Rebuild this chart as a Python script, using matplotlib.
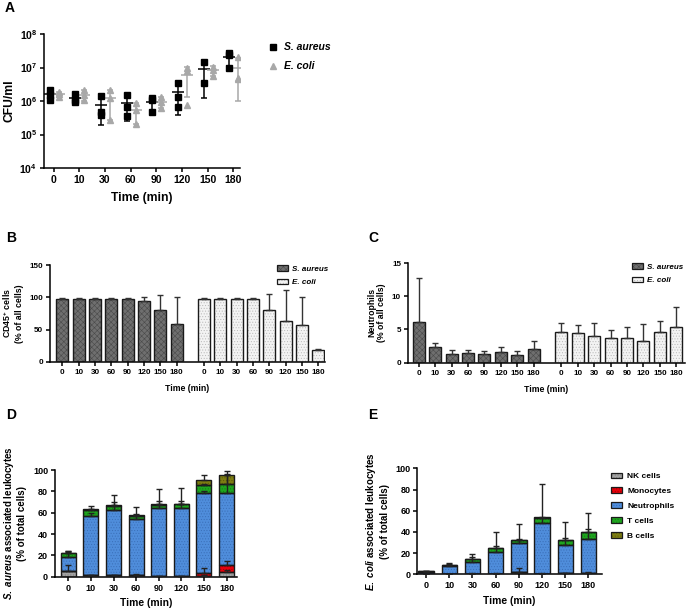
import numpy as np
import matplotlib
matplotlib.use('Agg')
import matplotlib.pyplot as plt
from matplotlib.patches import Patch
from matplotlib.lines import Line2D
from matplotlib.ticker import NullLocator

plt.rcParams['font.family'] = ['Liberation Sans', 'DejaVu Sans']
plt.rcParams['font.weight'] = 'bold'
plt.rcParams['axes.labelweight'] = 'bold'
plt.rcParams['mathtext.fontset'] = 'custom'
plt.rcParams['mathtext.rm'] = 'Liberation Sans:bold'
plt.rcParams['mathtext.bf'] = 'Liberation Sans:bold'
plt.rcParams['mathtext.it'] = 'Liberation Sans:italic:bold'
plt.rcParams['hatch.linewidth'] = 0.4
plt.rcParams['axes.linewidth'] = 1.1

times = ['0', '10', '30', '60', '90', '120', '150', '180']

# panel A: CFU/ml, individual replicates
sa_cfu = [[2.2e6, 1.5e6, 1.05e6], [1.6e6, 1.1e6, 0.95e6], [1.4e6, 0.48e6, 0.38e6],
          [1.5e6, 0.68e6, 0.36e6], [1.25e6, 1.07e6, 0.46e6], [3.4e6, 1.35e6, 0.68e6],
          [1.45e7, 3.5e6], [2.8e7, 2.4e7, 1.0e7]]
ec_cfu = [[1.9e6, 1.6e6, 1.3e6], [2.1e6, 1.5e6, 1.05e6], [2.1e6, 1.2e6, 0.27e6],
          [0.9e6, 0.54e6, 0.21e6], [1.3e6, 0.95e6, 0.6e6], [9.5e6, 7.6e6, 0.76e6],
          [1.07e7, 8.5e6, 5.4e6], [2.0e7, 4.8e6, 4.5e6]]

# panel B: CD45+ cells
cd45_sa = [98, 98, 98, 98, 97, 95, 80, 58]
cd45_sa_sd = [1, 1, 1, 1, 1.5, 5, 23, 43]
cd45_ec = [98, 98, 98, 98, 80, 63, 57, 18]
cd45_ec_sd = [1, 1, 1, 1.5, 25, 48, 43, 2]

# panel C: neutrophils
neu_sa = [6.1, 2.3, 1.3, 1.4, 1.3, 1.6, 1.2, 2.0]
neu_sa_sd = [6.6, 0.7, 0.6, 0.5, 0.4, 0.7, 0.6, 1.2]
neu_ec = [4.6, 4.4, 4.0, 3.7, 3.7, 3.2, 4.6, 5.3]
neu_ec_sd = [1.4, 1.2, 1.9, 1.2, 1.7, 2.6, 1.7, 3.1]

# panels D/E: stacked leukocyte subsets
cell_types = ['NK cells', 'Monocytes', 'Neutrophils', 'T cells', 'B cells']
cell_colors = ['#a3a3a3', '#e8000b', '#4f8ddb', '#1fa51f', '#7d7d12']
hatch_colors = ['#7a7a7a', '#a00000', '#3a6fb8', '#137a13', '#5a5a08']

sa_nk = [5, 1.5, 1.5, 1.5, 0.5, 0.5, 1, 4]
sa_mono = [0.3, 0.2, 0.2, 0.2, 0.1, 0.1, 2.5, 7]
sa_neut = [13, 55, 60.5, 52, 63.5, 63.5, 74.5, 67.5]
sa_t = [3.5, 6, 4.5, 3.5, 3.5, 4, 8, 8]
sa_b = [0.5, 0.3, 0.3, 0.3, 0.2, 0.2, 4.5, 9]
sa_nk_sd = [6, 0.5, 0.5, 1, 0.3, 0.3, 0.5, 2]
sa_mono_sd = [0, 0, 0, 0, 0, 0, 4.5, 4]
sa_neut_sd = [6, 3, 8, 5.5, 7, 7, 2.5, 17]
sa_t_sd = [2.5, 4, 9.5, 8, 15, 15, 1, 10]
sa_b_sd = [0.5, 0.5, 0.3, 0.3, 0.3, 0.3, 5, 4]

ec_nk = [0.3, 0.3, 0.5, 0.5, 2, 0.5, 1, 1]
ec_mono = [0, 0, 0, 0, 0.5, 0, 0, 0]
ec_neut = [2.2, 7.2, 11.5, 21, 27, 47.5, 27, 32]
ec_t = [0.5, 1, 2.5, 3.5, 3, 5.5, 4.5, 6.5]
ec_b = [0.1, 0.1, 0.1, 0.1, 0.1, 0.1, 0.1, 0.1]
ec_nk_sd = [0.2, 0.2, 0.3, 0.5, 4, 0.3, 0.5, 1]
ec_mono_sd = [0, 0, 0, 0, 0, 0, 0, 0]
ec_neut_sd = [0.5, 3, 7.5, 18, 18, 37, 21, 25]
ec_t_sd = [0.5, 1, 1.5, 1.5, 1, 0.5, 1.5, 3]
ec_b_sd = [0, 0, 0, 0, 0, 0, 0, 0]

fig = plt.figure(figsize=(6.88, 6.08), dpi=100)


def rect(l, t, r, b):
    return [l / 688, 1 - b / 608, (r - l) / 688, (b - t) / 608]


def style(ax, fs):
    ax.spines['top'].set_visible(False)
    ax.spines['right'].set_visible(False)
    ax.tick_params(labelsize=fs, width=1.1, length=3, pad=2)


def hatched_bar(ax, x, h, width, bottom, face, hcol, hatch):
    ax.bar(x, h, width, bottom=bottom, color=face, edgecolor=hcol,
           hatch=hatch, linewidth=0, zorder=2)
    ax.bar(x, h, width, bottom=bottom, fill=False, edgecolor='#1a1a1a',
           linewidth=1, zorder=3)


# ---------- A ----------
axA = fig.add_axes(rect(44, 34, 240, 168))
x = np.arange(8)
for off, data, col, mk in [(-0.15, sa_cfu, 'black', 's'), (0.2, ec_cfu, '#a8a8a8', '^')]:
    means = np.array([np.mean(d) for d in data])
    sds = np.array([np.std(d, ddof=1) for d in data])
    low = np.minimum(sds, means * 0.9)
    for i, d in enumerate(data):
        axA.plot([x[i] + off] * len(d), d, ls='none', marker=mk, ms=4.5,
                 color=col, zorder=3)
    axA.errorbar(x + off, means, yerr=[low, sds], fmt='none', ecolor=col,
                 elinewidth=1.1, capsize=2.5, capthick=1.1, zorder=2)
    axA.plot(x + off, means, ls='none', marker='_', ms=8, mew=1.1, color=col, zorder=2)
axA.set_yscale('log')
axA.set_ylim(1e4, 1e8)
axA.set_yticks([1e4, 1e5, 1e6, 1e7, 1e8])
axA.set_yticklabels([r'$10^{%d}$' % k for k in range(4, 9)])
axA.yaxis.set_minor_locator(NullLocator())
axA.set_xlim(-0.37, 7.26)
axA.set_xticks(x)
axA.set_xticklabels(times)
style(axA, 7.5)
axA.set_ylabel('CFU/ml', fontsize=8.7, labelpad=3)
axA.set_xlabel('Time (min)', fontsize=8.7, labelpad=5)
hA = [Line2D([], [], ls='none', marker='s', ms=4.5, color='black'),
      Line2D([], [], ls='none', marker='^', ms=4.5, color='#a8a8a8')]
fig.legend(hA, ['S. aureus', 'E. coli'], loc='upper left',
           bbox_to_anchor=(257 / 688, 1 - 33 / 608), frameon=False,
           prop={'size': 7.5, 'style': 'italic', 'weight': 'bold'},
           handlelength=1.2, handletextpad=0.5, labelspacing=0.85)

# ---------- B and C ----------
g1 = np.arange(8)
g2 = np.arange(8) + 8.67
xt = np.concatenate([g1, g2])
sa_face, sa_hcol, sa_hatch = '#6f6f6f', '#4a4a4a', 'xxxxxx'
ec_face, ec_hcol, ec_hatch = '#f3f3f3', '#b8b8b8', '......'


def group_panel(ax, sa, sa_sd, ec, ec_sd):
    hatched_bar(ax, g1, sa, 0.73, 0, sa_face, sa_hcol, sa_hatch)
    hatched_bar(ax, g2, ec, 0.73, 0, ec_face, ec_hcol, ec_hatch)
    ax.errorbar(g1, sa, yerr=[np.zeros(8), sa_sd], fmt='none', ecolor='#333333',
                elinewidth=1, capsize=2.5, capthick=1, zorder=4)
    ax.errorbar(g2, ec, yerr=[np.zeros(8), ec_sd], fmt='none', ecolor='#333333',
                elinewidth=1, capsize=2.5, capthick=1, zorder=4)
    ax.set_xticks(xt)
    ax.set_xticklabels(times + times)
    style(ax, 5.8)
    ax.set_xlabel('Time (min)', fontsize=6.3, labelpad=6)


def group_handles():
    hs = []
    for face, hcol, hatch in [(sa_face, sa_hcol, sa_hatch), (ec_face, ec_hcol, ec_hatch)]:
        hs.append((Patch(facecolor=face, edgecolor=hcol, hatch=hatch, linewidth=0),
                   Patch(fill=False, edgecolor='#1a1a1a', linewidth=0.9)))
    return hs


axB = fig.add_axes(rect(50, 265, 325, 362))
group_panel(axB, cd45_sa, cd45_sa_sd, cd45_ec, cd45_ec_sd)
axB.set_xlim(-0.75, 16.08)
axB.set_ylim(0, 150)
axB.set_yticks([0, 50, 100, 150])
axB.set_ylabel(r'$\mathrm{CD45^{+}\ cells}$' + '\n(% of all cells)', fontsize=6.3, labelpad=4)
fig.legend(group_handles(), ['S. aureus', 'E. coli'], loc='upper left',
           bbox_to_anchor=(270 / 688, 1 - 258 / 608), frameon=False,
           prop={'size': 5.8, 'style': 'italic', 'weight': 'bold'},
           handlelength=1.3, handleheight=0.7, handletextpad=0.5, labelspacing=0.7)

axC = fig.add_axes(rect(408, 263, 685, 362.7))
group_panel(axC, neu_sa, neu_sa_sd, neu_ec, neu_ec_sd)
axC.set_xlim(-0.65, 16.2)
axC.set_ylim(0, 15)
axC.set_yticks([0, 5, 10, 15])
axC.set_ylabel('Neutrophils\n(% of all cells)', fontsize=6.3, labelpad=4)
fig.legend(group_handles(), ['S. aureus', 'E. coli'], loc='upper left',
           bbox_to_anchor=(625 / 688, 1 - 256 / 608), frameon=False,
           prop={'size': 5.8, 'style': 'italic', 'weight': 'bold'},
           handlelength=1.3, handleheight=0.7, handletextpad=0.5, labelspacing=0.7)


# ---------- D and E ----------
def stacked_panel(ax, layers, sds):
    bottom = np.zeros(8)
    tops = []
    for k, vals in enumerate(layers):
        vals = np.array(vals, dtype=float)
        hatched_bar(ax, x, vals, 0.66, bottom, cell_colors[k], hatch_colors[k], '......')
        bottom = bottom + vals
        tops.append(bottom.copy())
    for k, sd in enumerate(sds):
        sd = np.array(sd, dtype=float)
        m = sd > 0
        ax.errorbar(x[m], tops[k][m], yerr=[np.zeros(m.sum()), sd[m]], fmt='none',
                    ecolor='#222222', elinewidth=1, capsize=2.5, capthick=1, zorder=5)
    ax.set_ylim(0, 100)
    ax.set_yticks([0, 20, 40, 60, 80, 100])
    ax.set_xticks(x)
    ax.set_xticklabels(times)
    style(ax, 6.5)
    ax.set_xlabel('Time (min)', fontsize=7.4, labelpad=4)


axD = fig.add_axes(rect(55, 470, 236.7, 576.7))
stacked_panel(axD, [sa_nk, sa_mono, sa_neut, sa_t, sa_b],
              [sa_nk_sd, sa_mono_sd, sa_neut_sd, sa_t_sd, sa_b_sd])
axD.set_xlim(-0.59, 7.45)
axD.set_ylabel(r'$\mathit{S.\ aureus}\ \mathrm{associated\ leukocytes}$' + '\n(% of total cells)',
               fontsize=7, labelpad=4)

axE = fig.add_axes(rect(417.3, 468.3, 601.7, 574.3))
stacked_panel(axE, [ec_nk, ec_mono, ec_neut, ec_t, ec_b],
              [ec_nk_sd, ec_mono_sd, ec_neut_sd, ec_t_sd, ec_b_sd])
axE.set_xlim(-0.375, 7.57)
axE.set_ylabel(r'$\mathit{E.\ coli}\ \mathrm{associated\ leukocytes}$' + '\n(% of total cells)',
               fontsize=7, labelpad=4)
hE = [(Patch(facecolor=c, edgecolor=hc, hatch='......', linewidth=0),
       Patch(fill=False, edgecolor='#1a1a1a', linewidth=0.9))
      for c, hc in zip(cell_colors, hatch_colors)]
fig.legend(hE, cell_types, loc='upper left',
           bbox_to_anchor=(603 / 688, 1 - 465 / 608), frameon=False,
           prop={'size': 6, 'weight': 'bold'},
           handlelength=1.4, handleheight=0.7, handletextpad=0.6, labelspacing=0.85)

# panel letters
for lab, px, py in [('A', 5, 8), ('B', 6, 238), ('C', 368, 238), ('D', 6, 415), ('E', 368, 415)]:
    fig.text(px / 688, 1 - py / 608, lab, fontsize=10, weight='bold', va='center')

fig.savefig('out.png', dpi=100)
